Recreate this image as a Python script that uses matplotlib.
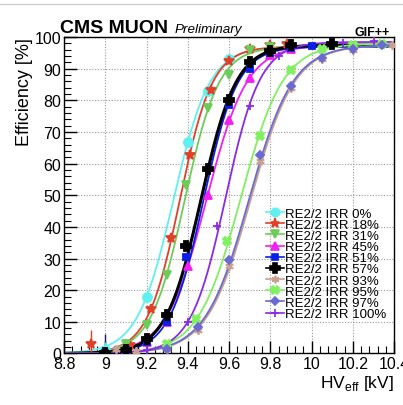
import numpy as np
import matplotlib.pyplot as plt
from matplotlib.ticker import MultipleLocator

plt.rcParams['font.family'] = ['Liberation Sans', 'DejaVu Sans']

labels = ['RE2/2 IRR 0%', 'RE2/2 IRR 18%', 'RE2/2 IRR 31%', 'RE2/2 IRR 45%',
          'RE2/2 IRR 51%', 'RE2/2 IRR 57%', 'RE2/2 IRR 93%', 'RE2/2 IRR 95%',
          'RE2/2 IRR 97%', 'RE2/2 IRR 100%']

# measured points (HV_eff in kV, efficiency in %)
hv_0 = [9.0, 9.2, 9.4, 9.5, 9.6]
eff_0 = [1.0, 18.0, 67.0, 83.0, 93.0]
hv_18 = [8.93, 9.12, 9.22, 9.32, 9.41, 9.51, 9.60, 9.70, 9.80, 9.88]
eff_18 = [3.0, 2.8, 14.0, 36.5, 62.8, 83.2, 92.5, 96.4, 97.4, 97.9]
hv_31 = [9.1, 9.2, 9.3, 9.39, 9.5, 9.6, 9.7, 9.8]
eff_31 = [3.0, 9.0, 24.8, 53.1, 77.6, 88.0, 95.9, 97.0]
hv_45 = [9.0, 9.1, 9.2, 9.3, 9.4, 9.5, 9.6, 9.7, 9.8, 9.9]
eff_45 = [0.2, 1.0, 3.5, 9.9, 27.6, 50.2, 73.7, 87.1, 94.5, 96.1]
hv_51 = [9.0, 9.1, 9.2, 9.3, 9.39, 9.6, 9.7, 9.8, 9.9, 10.0]
eff_51 = [0.2, 1.0, 3.7, 9.9, 30.4, 78.6, 89.8, 95.0, 96.5, 97.2]
hv_57 = [9.0, 9.1, 9.2, 9.3, 9.39, 9.5, 9.6, 9.7, 9.8, 9.9, 10.1]
eff_57 = [0.2, 1.2, 4.6, 12.0, 34.1, 58.2, 80.2, 92.1, 95.5, 97.4, 97.7]
hv_93 = [9.05, 9.15, 9.3, 9.45, 9.6, 9.75, 9.9, 10.05, 10.2, 10.39]
eff_93 = [1.5, 0.8, 1.5, 7.5, 27.6, 60.7, 84.0, 93.0, 96.0, 97.4]
hv_95 = [9.3, 9.44, 9.59, 9.75, 9.9, 10.05, 10.2, 10.34]
eff_95 = [3.0, 10.9, 35.7, 68.9, 89.5, 96.1, 97.6, 97.9]
hv_97 = [9.3, 9.45, 9.6, 9.75, 9.9, 10.05, 10.2, 10.34]
eff_97 = [1.4, 8.5, 29.4, 62.8, 84.7, 93.4, 96.1, 97.4]
hv_100 = [9.2, 9.4, 9.54, 9.7, 9.84, 10.15, 10.3]
eff_100 = [1.0, 9.9, 40.4, 78.2, 94.2, 98.2, 98.7]

# sigmoid fit parameters: Emax, lambda, HV50
emax = [97.0, 97.0, 97.0, 97.5, 97.0, 97.5, 97.5, 98.0, 97.5, 98.5]
lam = [11.4, 12.7, 12.1, 10.2, 12.1, 11.7, 9.4, 9.7, 9.4, 11.9]
hv50 = [9.33, 9.361, 9.385, 9.491, 9.476, 9.464, 9.705, 9.656, 9.697, 9.583]

hvs = [hv_0, hv_18, hv_31, hv_45, hv_51, hv_57, hv_93, hv_95, hv_97, hv_100]
effs = [eff_0, eff_18, eff_31, eff_45, eff_51, eff_57, eff_93, eff_95, eff_97, eff_100]

colors = ['#5ff0f0', '#e0402a', '#6ccc5a', '#f020f0', '#0a1ee8', '#000000',
          '#c8a090', '#80f060', '#6a6ad0', '#8a2be2']
markers = ['o', '*', 'v', '^', 's', 'P', (6, 2, 0), 'X', 'D', '+']
msizes = [6.5, 7, 6, 6, 5, 7, 6, 6, 4.5, 6]

fig = plt.figure(figsize=(4.03, 4.06), dpi=100)
ax = fig.add_axes([0.159, 0.127, 0.819, 0.779])

xs = np.linspace(8.8, 10.4, 400)
for i in range(len(labels)):
    curve = emax[i] / (1 + np.exp(-lam[i] * (xs - hv50[i])))
    lw = 2.2 if colors[i] == '#000000' else 1.3
    ax.plot(xs, curve, color=colors[i], lw=lw, zorder=2)
    ax.plot(hvs[i], effs[i], ls='none', marker=markers[i], ms=msizes[i],
            color=colors[i], mec=colors[i], mew=1.3, zorder=3)
    # legend proxy
    ax.plot([], [], color=colors[i], lw=1.2, marker=markers[i],
            ms=msizes[i] - 0.5, mew=1.2, label=labels[i])

# a few error bars on the low points
ax.errorbar([8.93, 9.0, 9.0], [3.0, 0.5, 1.0], yerr=[4.5, 5.5, 2.5],
            fmt='none', ecolor=['#e0402a', '#1a1a60', '#5ff0f0'], lw=1, zorder=2)

ax.set_xlim(8.8, 10.4)
ax.set_ylim(0, 100)
ax.xaxis.set_minor_locator(MultipleLocator(0.04))
ax.yaxis.set_major_locator(MultipleLocator(10))
ax.yaxis.set_minor_locator(MultipleLocator(2))
ax.tick_params(which='both', direction='in', top=False, right=False,
               labelsize=11.5, pad=2)
ax.tick_params(which='major', length=9, width=1)
ax.tick_params(which='minor', length=5, width=0.8)
ax.set_xticks([8.8, 9.0, 9.2, 9.4, 9.6, 9.8, 10.0, 10.2, 10.4])
ax.set_xticklabels(['8.8', '9', '9.2', '9.4', '9.6', '9.8', '10', '10.2', '10.4'])
ax.grid(True, which='major', color='#999999', ls=(0, (1, 1.5)), lw=0.8)
for s in ax.spines.values():
    s.set_linewidth(1.0)

ax.set_ylabel('Efficiency [%]', fontsize=13, loc='top', labelpad=1)
ax.set_xlabel(r'HV$_{\mathregular{eff}}$ [kV]', fontsize=12.5, loc='right', labelpad=1)

ax.legend(loc='lower right', bbox_to_anchor=(1.0, 0.08), frameon=False,
          fontsize=9.5, handlelength=1.3, handletextpad=0.1, labelspacing=-0.08,
          borderaxespad=0.2)

fig.text(0.149, 0.918, 'CMS MUON', fontsize=14, fontweight='bold')
fig.text(0.432, 0.918, 'Preliminary', fontsize=9.7, style='italic')
fig.text(0.968, 0.911, 'GIF++', fontsize=9, fontweight='bold', ha='right')

fig.add_artist(plt.Line2D([0, 1], [0.988, 0.988], color='#cccccc', lw=1))

fig.savefig('out.png', dpi=100)
